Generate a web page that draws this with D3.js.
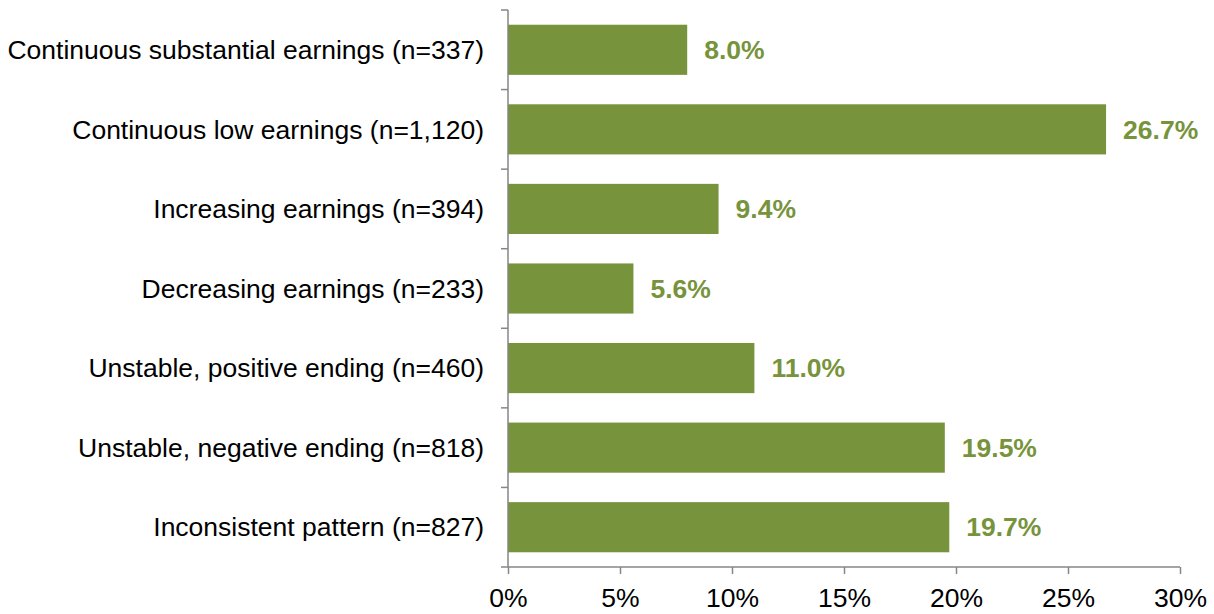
<!DOCTYPE html>
<html><head><meta charset="utf-8">
<script src="https://cdn.jsdelivr.net/npm/d3@7"></script>
<style>body{margin:0;background:#fff;} svg{display:block;font-family:Arial,"Liberation Sans",sans-serif;}</style>
</head><body>
<svg id="c" width="1214" height="614"></svg>
<script>
const categories = ["Continuous substantial earnings (n=337)","Continuous low earnings (n=1,120)","Increasing earnings (n=394)","Decreasing earnings (n=233)","Unstable, positive ending (n=460)","Unstable, negative ending (n=818)","Inconsistent pattern (n=827)"];
const values = [8.0, 26.7, 9.4, 5.6, 11.0, 19.5, 19.7];
const xTicks = [0,5,10,15,20,25,30];

const svg = d3.select("#c");
const green = "#77933C", grey = "#868686";
const x = d3.scaleLinear().domain([0,30]).range([508,1180]);
const y = d3.scaleBand().domain(categories).range([10,567]).paddingInner(0.37).paddingOuter(0.185);

svg.selectAll("rect.bar").data(values).join("rect").attr("class","bar")
  .attr("x", x(0)).attr("y",(d,i)=>y(categories[i])).attr("width",d=>x(d)-x(0)).attr("height",y.bandwidth()).attr("fill",green);

svg.selectAll("text.val").data(values).join("text").attr("class","val")
  .attr("x",d=>x(d)+17).attr("y",(d,i)=>y(categories[i])+y.bandwidth()/2).attr("dy","0.35em")
  .attr("fill",green).attr("font-weight","bold").attr("font-size","26.5px").text(d=>d.toFixed(1)+"%");

// y axis
const step = (567-10)/categories.length;
const g = svg.append("g");
g.append("line").attr("x1",x(0)).attr("x2",x(0)).attr("y1",10).attr("y2",567).attr("stroke",grey).attr("stroke-width",1.5);
d3.range(categories.length+1).forEach(i=>{
  g.append("line").attr("x1",x(0)-7).attr("x2",x(0)).attr("y1",10+i*step).attr("y2",10+i*step).attr("stroke",grey).attr("stroke-width",1.5);
});
svg.selectAll("text.cat").data(categories).join("text").attr("class","cat")
  .attr("x",484).attr("y",d=>y(d)+y.bandwidth()/2).attr("dy","0.35em").attr("text-anchor","end")
  .attr("font-size","26.5px").attr("fill","#000").text(d=>d);

// x axis
const xa = svg.append("g").attr("transform","translate(0,567)")
  .call(d3.axisBottom(x).tickValues(xTicks).tickSize(7).tickPadding(14).tickFormat(d=>d+"%"));
xa.select(".domain").attr("stroke",grey).attr("stroke-width",1.5).attr("d",`M${x(0)},0H${x(30)}`);
xa.selectAll(".tick line").attr("stroke",grey).attr("stroke-width",1.5);
xa.selectAll(".tick text").attr("font-size","26.5px").attr("fill","#000").attr("font-family","Arial, 'Liberation Sans', sans-serif");
</script>
</body></html>
